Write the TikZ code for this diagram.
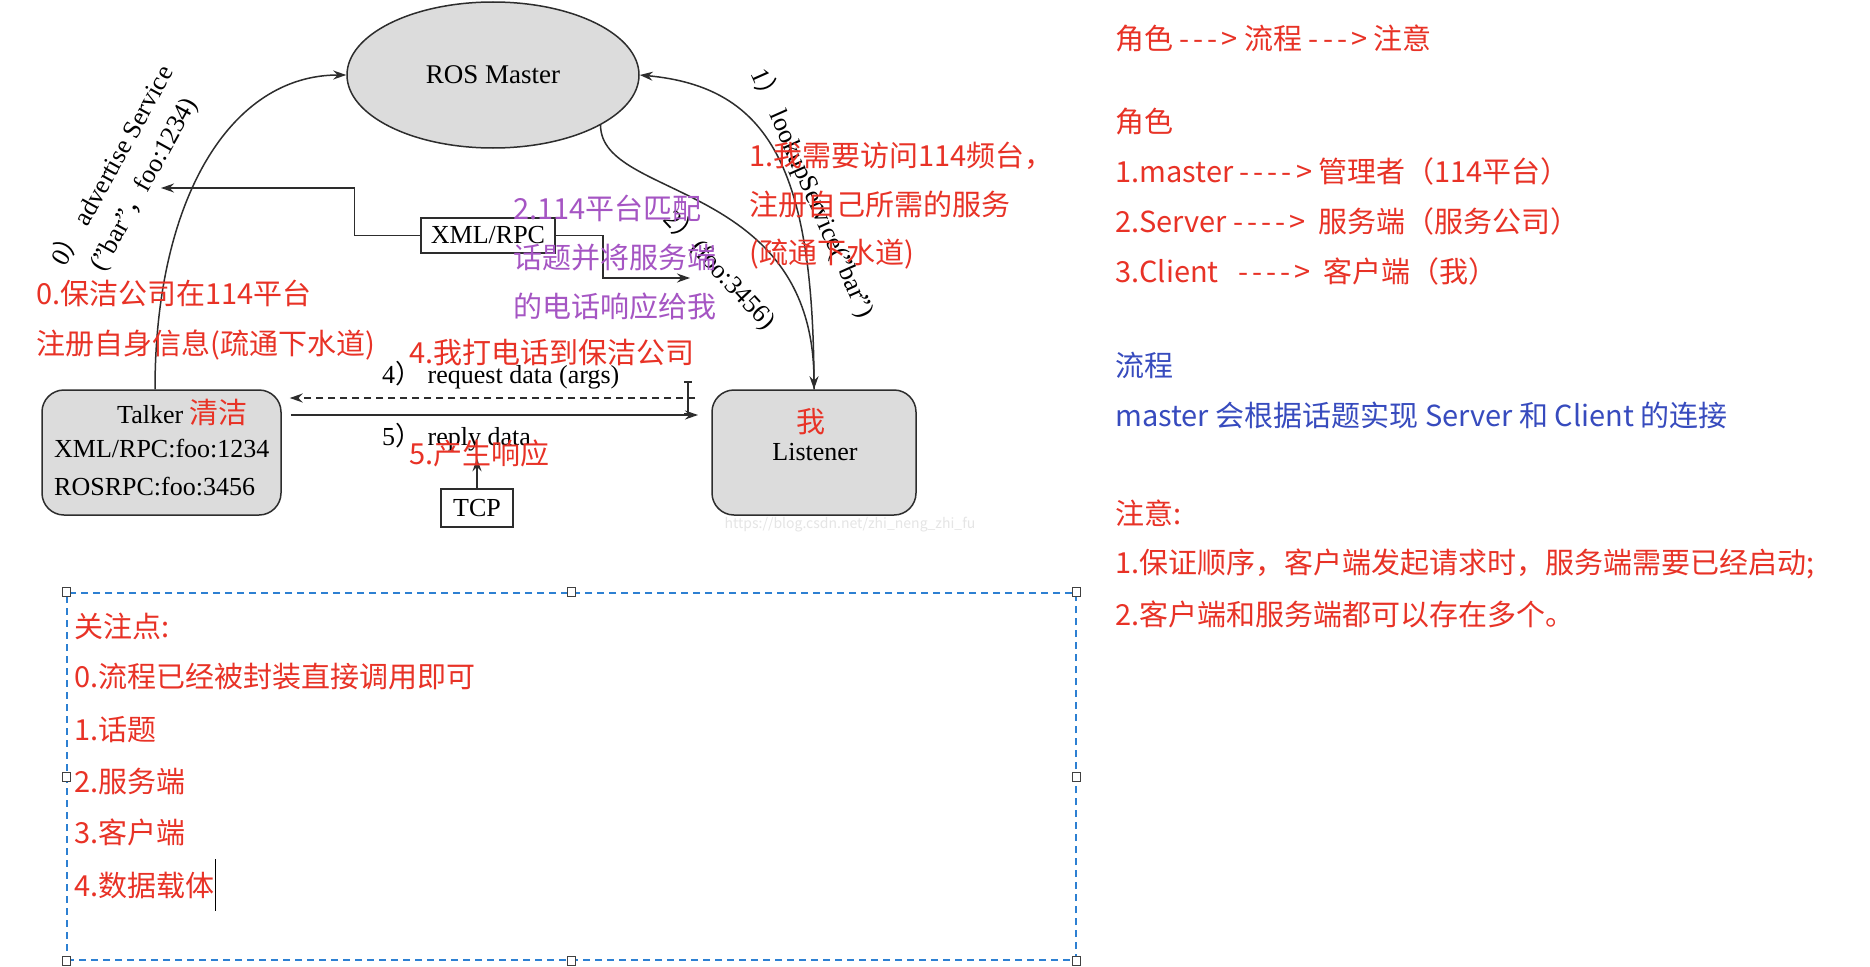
\documentclass[tikz,border=0pt]{standalone}
\usepackage{fontspec}
\setmainfont{Liberation Serif}
\newfontfamily\cjk{Noto Sans CJK SC}
\usetikzlibrary{arrows.meta,shapes.geometric}
\definecolor{redtxt}{RGB}{232,50,38}
\definecolor{bluetxt}{RGB}{55,75,190}
\definecolor{purtxt}{RGB}{165,85,195}
\definecolor{boxfill}{RGB}{220,220,220}
\definecolor{linec}{RGB}{45,45,45}
\definecolor{dashblue}{RGB}{45,128,210}
\newcommand\dsh{-\kern4pt}
\begin{document}
\begin{tikzpicture}[x=1pt,y=-1pt,
  serif/.style={font=\fontsize{26}{28}\selectfont, text=black, inner sep=0pt},
  ann/.style={font=\cjk\fontsize{29}{31}\selectfont, text=redtxt, anchor=west, inner sep=0pt},
  annp/.style={ann, text=purtxt},
  annb/.style={ann, text=bluetxt},
  conn/.style={draw=linec, line width=1.5pt},
  arr/.style={conn, -{Stealth[length=13pt,width=9pt]}},
  gbox/.style={draw=linec, line width=1.5pt, fill=boxfill, rounded corners=22pt, inner sep=0pt},
  pbox/.style={draw=linec, line width=1.5pt, fill=white, inner sep=0pt, font=\fontsize{26}{28}\selectfont},
  handle/.style={draw=black!75, fill=white, line width=1pt, minimum width=8pt, minimum height=9pt, inner sep=0pt}
]
\useasboundingbox (0,0) rectangle (1870,966);
\fill[white] (0,0) rectangle (1870,966);

% main nodes
\node[ellipse, draw=linec, line width=1.5pt, fill=boxfill, minimum width=292pt, minimum height=146pt, inner sep=0pt, font=\fontsize{27}{29}\selectfont] (master) at (493,75) {ROS Master};
\node[gbox, minimum width=239pt, minimum height=125pt] (talker) at (161.5,452.5) {};
\node[gbox, minimum width=204pt, minimum height=125pt] (listener) at (814,452.5) {};
\node[pbox, minimum width=134pt, minimum height=35pt] (xmlrpc) at (488,235.5) {XML/RPC};
\node[pbox, minimum width=72pt, minimum height=38pt] (tcp) at (477,508) {TCP};

% talker / listener texts
\node[serif, anchor=base west] (tk1) at (117,423) {Talker {\cjk\fontsize{29}{31}\selectfont\color{redtxt} 清洁}};
\node[serif, anchor=base west] (tk2) at (54,457) {XML/RPC:foo:1234};
\node[serif, anchor=base west] (tk3) at (54,495) {ROSRPC:foo:3456};
\node[ann, anchor=center] (me) at (811,422) {我};
\node[serif, anchor=base] (ls) at (815,460) {Listener};

% connectors
\draw[arr] ([xshift=-6.5pt]talker.north) .. controls +(0,-190) and +(-116,0) .. (master.west);
\draw[arr] (listener.north) .. controls +(0,-220) and +(130,12) .. (master.east);
\draw[arr] (master.-25) .. controls +(0,75) and +(0,-210) .. (listener.north);
\coordinate (advtip) at (161,188);
\coordinate (footip) at (690,278);
\draw[arr] (xmlrpc.west) -- ++(-66,0) |- (advtip);
\draw[arr] (xmlrpc.east) -- ++(47,0) |- (footip);
\coordinate (reqstart) at (695,398);
\coordinate (reptip) at (698,415);
\draw[arr, dashed, dash pattern=on 7pt off 5pt, shorten >=8pt] (reqstart) -- (talker.east |- reqstart);
\draw[arr] ([xshift=9pt]talker.east |- reptip) -- (reptip);
\draw[arr] (tcp.north) -- ++(0,-30);
% I-beam cursor
\draw[linec, line width=1.2pt] (684,382) -- (692,382) (688,382) -- (688,414) (684,414) -- (692,414);

% diagram labels
\node[serif, rotate=61] (adv1) at (111,165) {0{\cjk ）}\ advertise Service};
\node[serif, rotate=61] (adv2) at (145,185) {("bar"{\cjk ，}foo:1234)};
\node[serif, rotate=-66] (lookup) at (813,193) {1{\cjk ）}\ lookupService("bar")};
\node[serif, rotate=-47] (foolbl) at (720,270) {2{\cjk ）}(foo:3456)};
\node[serif, anchor=west] (req) at (382,375) {4{\cjk ）}\ request data (args)};
\node[serif, anchor=west] (rep) at (382,437) {5{\cjk ）}\ reply data};
\node[font=\cjk\fontsize{14}{14}\selectfont, text=black!10, inner sep=0pt] (wm) at (850,525) {https://blog.csdn.net/zhi\_neng\_zhi\_fu};

% annotations on the diagram
\node[ann] (a0a) at (36,293) {0.保洁公司在114平台};
\node[ann] (a0b) at (36,345) {注册自身信息(疏通下水道)};
\node[ann] (a1a) at (749,156) {1.我需要访问114频台，};
\node[ann] (a1b) at (749,205) {注册自己所需的服务};
\node[ann] (a1c) at (749,254) {(疏通下水道)};
\node[annp] (a2a) at (513,208) {2.114平台匹配};
\node[annp] (a2b) at (513,258) {话题并将服务端};
\node[annp] (a2c) at (513,306) {的电话响应给我};
\node[ann] (a4) at (409,353) {4.我打电话到保洁公司};
\node[ann] (a5) at (409,453) {5.产生响应};

% right column
\node[ann] (r0) at (1115,38) {角色 \dsh\dsh\dsh> 流程 \dsh\dsh\dsh> 注意};
\node[ann] (r1) at (1115,122) {角色};
\node[ann] (r2) at (1115,171) {1.master \dsh\dsh\dsh\dsh> 管理者（114平台）};
\node[ann] (r3) at (1115,221) {2.Server \dsh\dsh\dsh\dsh>\ \ 服务端（服务公司）};
\node[ann] (r4) at (1115,271) {3.Client\ \ \ \dsh\dsh\dsh\dsh>\ \ 客户端（我）};
\node[annb] (r5) at (1115,365) {流程};
\node[annb] (r6) at (1115,415) {master 会根据话题实现 Server 和 Client 的连接};
\node[ann] (r7) at (1115,513) {注意:};
\node[ann] (r8) at (1115,564) {1.保证顺序，客户端发起请求时，服务端需要已经启动;};
\node[ann] (r9) at (1115,614) {2.客户端和服务端都可以存在多个。};

% bottom focus box
\node[draw=dashblue, line width=1.8pt, dash pattern=on 7pt off 5pt, minimum width=1009pt, minimum height=367pt, inner sep=0pt] (focus) at (571.5,776.5) {};
\foreach \a in {north west,north,north east,west,east,south west,south,south east}
  \node[handle] at (focus.\a) {};
\node[ann] (b0) at (74,626) {关注点:};
\node[ann] (b1) at (74,677) {0.流程已经被封装直接调用即可};
\node[ann] (b2) at (74,730) {1.话题};
\node[ann] (b3) at (74,781) {2.服务端};
\node[ann] (b4) at (74,832) {3.客户端};
\node[ann] (b5) at (74,885) {4.数据载体};
\draw[black, line width=1.4pt] (b5.east) ++(1,-26) -- ++(0,52);
\end{tikzpicture}
\end{document}
